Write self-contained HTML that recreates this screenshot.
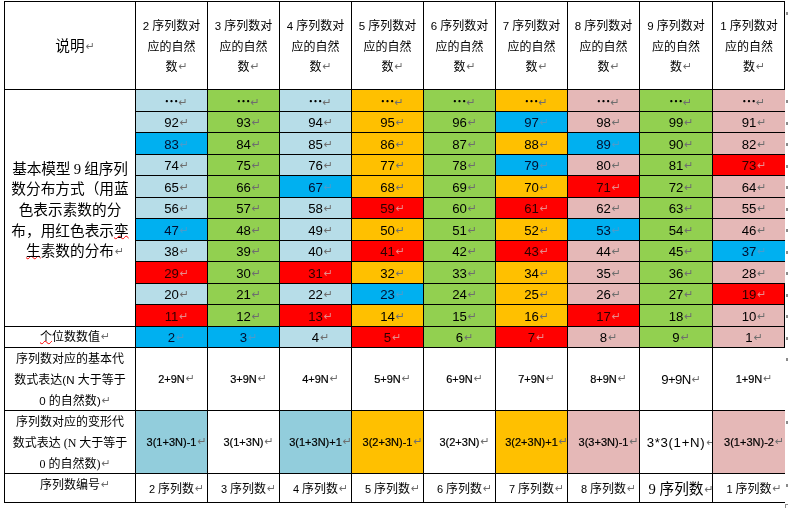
<!DOCTYPE html>
<html lang="zh-CN"><head><meta charset="utf-8"><title>table</title>
<style>
html,body{margin:0;padding:0;background:#fff;}
body{width:788px;height:508px;position:relative;overflow:hidden;font-family:"Liberation Serif","Noto Sans CJK SC",sans-serif;color:#000;}
.c{position:absolute;display:flex;align-items:center;justify-content:center;text-align:center;box-sizing:border-box;overflow:visible;white-space:nowrap;}
.t{position:relative;}
.ln{position:absolute;background:#000;}
.pm{display:inline-block;width:0;overflow:visible;color:#6e6e6e;font-family:"DejaVu Sans",sans-serif;font-size:11px;line-height:10px;font-weight:400;vertical-align:baseline;position:relative;top:-1px;left:1px;letter-spacing:0;}
.h12{font-size:12px;line-height:20.75px;font-weight:400;}
.h12 .t{top:1.5px;}
.h14{font-size:14.67px;line-height:21px;font-weight:400;}
.big{font-size:14.67px;line-height:20.65px;font-weight:400;}
.big .t{top:2.3px;}
.sq{letter-spacing:-0.2px;}
.sq .d9{margin:0 3.5px;}
.e{font-family:"Noto Sans CJK SC",sans-serif;font-weight:700;font-size:14px;position:relative;top:-0.5px;}
.l12{font-size:12px;line-height:21px;font-weight:400;}
.n{font-size:13.2px;line-height:20px;font-family:"Liberation Sans","Noto Sans CJK SC",sans-serif;}
.n .t{top:1.3px;}
.onb{color:#000f30;}
.onr{color:#2c0000;}
.onb .pm{color:#4a9ccc;}
.onr .pm{color:#e88a8a;}
.ls1{letter-spacing:-0.6px;}
.ls2{letter-spacing:0.7px;}
.f{font-size:11px;line-height:20px;font-family:"Liberation Sans","Noto Sans CJK SC",sans-serif;-webkit-text-stroke:0.2px #000;}
.f .pm{-webkit-text-stroke:0;}
.el .pm{left:0px;}
.hd{position:absolute;left:785px;top:504px;width:4px;height:4px;border:1px solid #8c8c8c;box-sizing:content-box;}
.d{font-family:"Liberation Sans",sans-serif;font-size:11.5px;font-weight:400;}
.fd{font-family:"Liberation Sans",sans-serif;font-size:11px;font-weight:400;}
.d9{font-family:"Liberation Serif",serif;font-weight:400;}
.s12{font-family:"Liberation Serif",serif;font-size:12px;}
.ml .t{top:1px;}
.top .t{top:-2.5px;}
.h14 .t{top:1px;}
.wv{text-decoration:underline wavy #f00;text-decoration-thickness:1px;text-underline-offset:-1px;}
.rm{position:absolute;left:786px;width:2px;height:3px;background:#8a8a8a;}
.low .t{top:1.2px;}
</style></head>
<body>
<div class="c h14" style="left:5px;top:2px;width:130px;height:87px;"><div class="t">说明<span class="pm">↵</span></div></div>
<div class="c h12" style="left:136px;top:2px;width:71px;height:87px;"><div class="t"><span class="d">2</span> 序列数对<br>应的自然<br>数<span class="pm">↵</span></div></div>
<div class="c h12" style="left:208px;top:2px;width:71px;height:87px;"><div class="t"><span class="d">3</span> 序列数对<br>应的自然<br>数<span class="pm">↵</span></div></div>
<div class="c h12" style="left:280px;top:2px;width:71px;height:87px;"><div class="t"><span class="d">4</span> 序列数对<br>应的自然<br>数<span class="pm">↵</span></div></div>
<div class="c h12" style="left:352px;top:2px;width:71px;height:87px;"><div class="t"><span class="d">5</span> 序列数对<br>应的自然<br>数<span class="pm">↵</span></div></div>
<div class="c h12" style="left:424px;top:2px;width:71px;height:87px;"><div class="t"><span class="d">6</span> 序列数对<br>应的自然<br>数<span class="pm">↵</span></div></div>
<div class="c h12" style="left:496px;top:2px;width:71px;height:87px;"><div class="t"><span class="d">7</span> 序列数对<br>应的自然<br>数<span class="pm">↵</span></div></div>
<div class="c h12" style="left:568px;top:2px;width:71px;height:87px;"><div class="t"><span class="d">8</span> 序列数对<br>应的自然<br>数<span class="pm">↵</span></div></div>
<div class="c h12" style="left:640px;top:2px;width:72px;height:87px;"><div class="t"><span class="d">9</span> 序列数对<br>应的自然<br>数<span class="pm">↵</span></div></div>
<div class="c h12" style="left:713px;top:2px;width:72px;height:87px;"><div class="t"><span class="d">1</span> 序列数对<br>应的自然<br>数<span class="pm">↵</span></div></div>
<div class="c big" style="left:5px;top:90px;width:130px;height:236px;"><div class="t"><span class="sq">基本模型<span class="d9">9</span>组序列</span><br>数分布方式（用蓝<br>色表示素数的分<br>布，用红色表示<span class="wv">孪</span><br><span class="wv">生</span>素数的分布<span class="pm">↵</span></div></div>
<div class="c n el" style="left:136px;top:90px;width:71px;height:21px;background:#B7DDE8;"><div class="t"><span class="e">…</span><span class="pm">↵</span></div></div>
<div class="c n el" style="left:208px;top:90px;width:71px;height:21px;background:#92D050;"><div class="t"><span class="e">…</span><span class="pm">↵</span></div></div>
<div class="c n el" style="left:280px;top:90px;width:71px;height:21px;background:#B7DDE8;"><div class="t"><span class="e">…</span><span class="pm">↵</span></div></div>
<div class="c n el" style="left:352px;top:90px;width:71px;height:21px;background:#FFC000;"><div class="t"><span class="e">…</span><span class="pm">↵</span></div></div>
<div class="c n el" style="left:424px;top:90px;width:71px;height:21px;background:#92D050;"><div class="t"><span class="e">…</span><span class="pm">↵</span></div></div>
<div class="c n el" style="left:496px;top:90px;width:71px;height:21px;background:#FFC000;"><div class="t"><span class="e">…</span><span class="pm">↵</span></div></div>
<div class="c n el" style="left:568px;top:90px;width:71px;height:21px;background:#E5B8B7;"><div class="t"><span class="e">…</span><span class="pm">↵</span></div></div>
<div class="c n el" style="left:640px;top:90px;width:72px;height:21px;background:#92D050;"><div class="t"><span class="e">…</span><span class="pm">↵</span></div></div>
<div class="c n el" style="left:713px;top:90px;width:72px;height:21px;background:#E5B8B7;"><div class="t"><span class="e">…</span><span class="pm">↵</span></div></div>
<div class="c n" style="left:136px;top:112px;width:71px;height:20px;background:#B7DDE8;"><div class="t">92<span class="pm">↵</span></div></div>
<div class="c n" style="left:208px;top:112px;width:71px;height:20px;background:#92D050;"><div class="t">93<span class="pm">↵</span></div></div>
<div class="c n" style="left:280px;top:112px;width:71px;height:20px;background:#B7DDE8;"><div class="t">94<span class="pm">↵</span></div></div>
<div class="c n" style="left:352px;top:112px;width:71px;height:20px;background:#FFC000;"><div class="t">95<span class="pm">↵</span></div></div>
<div class="c n" style="left:424px;top:112px;width:71px;height:20px;background:#92D050;"><div class="t">96<span class="pm">↵</span></div></div>
<div class="c n onb" style="left:496px;top:112px;width:71px;height:20px;background:#00B0F0;"><div class="t">97<span class="pm">↵</span></div></div>
<div class="c n" style="left:568px;top:112px;width:71px;height:20px;background:#E5B8B7;"><div class="t">98<span class="pm">↵</span></div></div>
<div class="c n" style="left:640px;top:112px;width:72px;height:20px;background:#92D050;"><div class="t">99<span class="pm">↵</span></div></div>
<div class="c n" style="left:713px;top:112px;width:72px;height:20px;background:#E5B8B7;"><div class="t">91<span class="pm">↵</span></div></div>
<div class="c n onb" style="left:136px;top:133px;width:71px;height:21px;background:#00B0F0;"><div class="t">83<span class="pm">↵</span></div></div>
<div class="c n" style="left:208px;top:133px;width:71px;height:21px;background:#92D050;"><div class="t">84<span class="pm">↵</span></div></div>
<div class="c n" style="left:280px;top:133px;width:71px;height:21px;background:#B7DDE8;"><div class="t">85<span class="pm">↵</span></div></div>
<div class="c n" style="left:352px;top:133px;width:71px;height:21px;background:#FFC000;"><div class="t">86<span class="pm">↵</span></div></div>
<div class="c n" style="left:424px;top:133px;width:71px;height:21px;background:#92D050;"><div class="t">87<span class="pm">↵</span></div></div>
<div class="c n" style="left:496px;top:133px;width:71px;height:21px;background:#FFC000;"><div class="t">88<span class="pm">↵</span></div></div>
<div class="c n onb" style="left:568px;top:133px;width:71px;height:21px;background:#00B0F0;"><div class="t">89<span class="pm">↵</span></div></div>
<div class="c n" style="left:640px;top:133px;width:72px;height:21px;background:#92D050;"><div class="t">90<span class="pm">↵</span></div></div>
<div class="c n" style="left:713px;top:133px;width:72px;height:21px;background:#E5B8B7;"><div class="t">82<span class="pm">↵</span></div></div>
<div class="c n" style="left:136px;top:155px;width:71px;height:20px;background:#B7DDE8;"><div class="t">74<span class="pm">↵</span></div></div>
<div class="c n" style="left:208px;top:155px;width:71px;height:20px;background:#92D050;"><div class="t">75<span class="pm">↵</span></div></div>
<div class="c n" style="left:280px;top:155px;width:71px;height:20px;background:#B7DDE8;"><div class="t">76<span class="pm">↵</span></div></div>
<div class="c n" style="left:352px;top:155px;width:71px;height:20px;background:#FFC000;"><div class="t">77<span class="pm">↵</span></div></div>
<div class="c n" style="left:424px;top:155px;width:71px;height:20px;background:#92D050;"><div class="t">78<span class="pm">↵</span></div></div>
<div class="c n onb" style="left:496px;top:155px;width:71px;height:20px;background:#00B0F0;"><div class="t">79<span class="pm">↵</span></div></div>
<div class="c n" style="left:568px;top:155px;width:71px;height:20px;background:#E5B8B7;"><div class="t">80<span class="pm">↵</span></div></div>
<div class="c n" style="left:640px;top:155px;width:72px;height:20px;background:#92D050;"><div class="t">81<span class="pm">↵</span></div></div>
<div class="c n onr" style="left:713px;top:155px;width:72px;height:20px;background:#FF0000;"><div class="t">73<span class="pm">↵</span></div></div>
<div class="c n" style="left:136px;top:176px;width:71px;height:21px;background:#B7DDE8;"><div class="t">65<span class="pm">↵</span></div></div>
<div class="c n" style="left:208px;top:176px;width:71px;height:21px;background:#92D050;"><div class="t">66<span class="pm">↵</span></div></div>
<div class="c n onb" style="left:280px;top:176px;width:71px;height:21px;background:#00B0F0;"><div class="t">67<span class="pm">↵</span></div></div>
<div class="c n" style="left:352px;top:176px;width:71px;height:21px;background:#FFC000;"><div class="t">68<span class="pm">↵</span></div></div>
<div class="c n" style="left:424px;top:176px;width:71px;height:21px;background:#92D050;"><div class="t">69<span class="pm">↵</span></div></div>
<div class="c n" style="left:496px;top:176px;width:71px;height:21px;background:#FFC000;"><div class="t">70<span class="pm">↵</span></div></div>
<div class="c n onr" style="left:568px;top:176px;width:71px;height:21px;background:#FF0000;"><div class="t">71<span class="pm">↵</span></div></div>
<div class="c n" style="left:640px;top:176px;width:72px;height:21px;background:#92D050;"><div class="t">72<span class="pm">↵</span></div></div>
<div class="c n" style="left:713px;top:176px;width:72px;height:21px;background:#E5B8B7;"><div class="t">64<span class="pm">↵</span></div></div>
<div class="c n" style="left:136px;top:198px;width:71px;height:20px;background:#B7DDE8;"><div class="t">56<span class="pm">↵</span></div></div>
<div class="c n" style="left:208px;top:198px;width:71px;height:20px;background:#92D050;"><div class="t">57<span class="pm">↵</span></div></div>
<div class="c n" style="left:280px;top:198px;width:71px;height:20px;background:#B7DDE8;"><div class="t">58<span class="pm">↵</span></div></div>
<div class="c n onr" style="left:352px;top:198px;width:71px;height:20px;background:#FF0000;"><div class="t">59<span class="pm">↵</span></div></div>
<div class="c n" style="left:424px;top:198px;width:71px;height:20px;background:#92D050;"><div class="t">60<span class="pm">↵</span></div></div>
<div class="c n onr" style="left:496px;top:198px;width:71px;height:20px;background:#FF0000;"><div class="t">61<span class="pm">↵</span></div></div>
<div class="c n" style="left:568px;top:198px;width:71px;height:20px;background:#E5B8B7;"><div class="t">62<span class="pm">↵</span></div></div>
<div class="c n" style="left:640px;top:198px;width:72px;height:20px;background:#92D050;"><div class="t">63<span class="pm">↵</span></div></div>
<div class="c n" style="left:713px;top:198px;width:72px;height:20px;background:#E5B8B7;"><div class="t">55<span class="pm">↵</span></div></div>
<div class="c n onb" style="left:136px;top:219px;width:71px;height:21px;background:#00B0F0;"><div class="t">47<span class="pm">↵</span></div></div>
<div class="c n" style="left:208px;top:219px;width:71px;height:21px;background:#92D050;"><div class="t">48<span class="pm">↵</span></div></div>
<div class="c n" style="left:280px;top:219px;width:71px;height:21px;background:#B7DDE8;"><div class="t">49<span class="pm">↵</span></div></div>
<div class="c n" style="left:352px;top:219px;width:71px;height:21px;background:#FFC000;"><div class="t">50<span class="pm">↵</span></div></div>
<div class="c n" style="left:424px;top:219px;width:71px;height:21px;background:#92D050;"><div class="t">51<span class="pm">↵</span></div></div>
<div class="c n" style="left:496px;top:219px;width:71px;height:21px;background:#FFC000;"><div class="t">52<span class="pm">↵</span></div></div>
<div class="c n onb" style="left:568px;top:219px;width:71px;height:21px;background:#00B0F0;"><div class="t">53<span class="pm">↵</span></div></div>
<div class="c n" style="left:640px;top:219px;width:72px;height:21px;background:#92D050;"><div class="t">54<span class="pm">↵</span></div></div>
<div class="c n" style="left:713px;top:219px;width:72px;height:21px;background:#E5B8B7;"><div class="t">46<span class="pm">↵</span></div></div>
<div class="c n" style="left:136px;top:241px;width:71px;height:20px;background:#B7DDE8;"><div class="t">38<span class="pm">↵</span></div></div>
<div class="c n" style="left:208px;top:241px;width:71px;height:20px;background:#92D050;"><div class="t">39<span class="pm">↵</span></div></div>
<div class="c n" style="left:280px;top:241px;width:71px;height:20px;background:#B7DDE8;"><div class="t">40<span class="pm">↵</span></div></div>
<div class="c n onr" style="left:352px;top:241px;width:71px;height:20px;background:#FF0000;"><div class="t">41<span class="pm">↵</span></div></div>
<div class="c n" style="left:424px;top:241px;width:71px;height:20px;background:#92D050;"><div class="t">42<span class="pm">↵</span></div></div>
<div class="c n onr" style="left:496px;top:241px;width:71px;height:20px;background:#FF0000;"><div class="t">43<span class="pm">↵</span></div></div>
<div class="c n" style="left:568px;top:241px;width:71px;height:20px;background:#E5B8B7;"><div class="t">44<span class="pm">↵</span></div></div>
<div class="c n" style="left:640px;top:241px;width:72px;height:20px;background:#92D050;"><div class="t">45<span class="pm">↵</span></div></div>
<div class="c n onb" style="left:713px;top:241px;width:72px;height:20px;background:#00B0F0;"><div class="t">37<span class="pm">↵</span></div></div>
<div class="c n onr" style="left:136px;top:262px;width:71px;height:21px;background:#FF0000;"><div class="t">29<span class="pm">↵</span></div></div>
<div class="c n" style="left:208px;top:262px;width:71px;height:21px;background:#92D050;"><div class="t">30<span class="pm">↵</span></div></div>
<div class="c n onr" style="left:280px;top:262px;width:71px;height:21px;background:#FF0000;"><div class="t">31<span class="pm">↵</span></div></div>
<div class="c n" style="left:352px;top:262px;width:71px;height:21px;background:#FFC000;"><div class="t">32<span class="pm">↵</span></div></div>
<div class="c n" style="left:424px;top:262px;width:71px;height:21px;background:#92D050;"><div class="t">33<span class="pm">↵</span></div></div>
<div class="c n" style="left:496px;top:262px;width:71px;height:21px;background:#FFC000;"><div class="t">34<span class="pm">↵</span></div></div>
<div class="c n" style="left:568px;top:262px;width:71px;height:21px;background:#E5B8B7;"><div class="t">35<span class="pm">↵</span></div></div>
<div class="c n" style="left:640px;top:262px;width:72px;height:21px;background:#92D050;"><div class="t">36<span class="pm">↵</span></div></div>
<div class="c n" style="left:713px;top:262px;width:72px;height:21px;background:#E5B8B7;"><div class="t">28<span class="pm">↵</span></div></div>
<div class="c n" style="left:136px;top:284px;width:71px;height:20px;background:#B7DDE8;"><div class="t">20<span class="pm">↵</span></div></div>
<div class="c n" style="left:208px;top:284px;width:71px;height:20px;background:#92D050;"><div class="t">21<span class="pm">↵</span></div></div>
<div class="c n" style="left:280px;top:284px;width:71px;height:20px;background:#B7DDE8;"><div class="t">22<span class="pm">↵</span></div></div>
<div class="c n onb" style="left:352px;top:284px;width:71px;height:20px;background:#00B0F0;"><div class="t">23<span class="pm">↵</span></div></div>
<div class="c n" style="left:424px;top:284px;width:71px;height:20px;background:#92D050;"><div class="t">24<span class="pm">↵</span></div></div>
<div class="c n" style="left:496px;top:284px;width:71px;height:20px;background:#FFC000;"><div class="t">25<span class="pm">↵</span></div></div>
<div class="c n" style="left:568px;top:284px;width:71px;height:20px;background:#E5B8B7;"><div class="t">26<span class="pm">↵</span></div></div>
<div class="c n" style="left:640px;top:284px;width:72px;height:20px;background:#92D050;"><div class="t">27<span class="pm">↵</span></div></div>
<div class="c n onr" style="left:713px;top:284px;width:72px;height:20px;background:#FF0000;"><div class="t">19<span class="pm">↵</span></div></div>
<div class="c n onr" style="left:136px;top:305px;width:71px;height:21px;background:#FF0000;"><div class="t">11<span class="pm">↵</span></div></div>
<div class="c n" style="left:208px;top:305px;width:71px;height:21px;background:#92D050;"><div class="t">12<span class="pm">↵</span></div></div>
<div class="c n onr" style="left:280px;top:305px;width:71px;height:21px;background:#FF0000;"><div class="t">13<span class="pm">↵</span></div></div>
<div class="c n" style="left:352px;top:305px;width:71px;height:21px;background:#FFC000;"><div class="t">14<span class="pm">↵</span></div></div>
<div class="c n" style="left:424px;top:305px;width:71px;height:21px;background:#92D050;"><div class="t">15<span class="pm">↵</span></div></div>
<div class="c n" style="left:496px;top:305px;width:71px;height:21px;background:#FFC000;"><div class="t">16<span class="pm">↵</span></div></div>
<div class="c n onr" style="left:568px;top:305px;width:71px;height:21px;background:#FF0000;"><div class="t">17<span class="pm">↵</span></div></div>
<div class="c n" style="left:640px;top:305px;width:72px;height:21px;background:#92D050;"><div class="t">18<span class="pm">↵</span></div></div>
<div class="c n" style="left:713px;top:305px;width:72px;height:21px;background:#E5B8B7;"><div class="t">10<span class="pm">↵</span></div></div>
<div class="c l12" style="left:5px;top:327px;width:130px;height:20px;"><div class="t"><span class="wv">个</span>位数数值<span class="pm">↵</span></div></div>
<div class="c n onb" style="left:136px;top:327px;width:71px;height:20px;background:#00B0F0;"><div class="t">2<span class="pm">↵</span></div></div>
<div class="c n onb" style="left:208px;top:327px;width:71px;height:20px;background:#00B0F0;"><div class="t">3<span class="pm">↵</span></div></div>
<div class="c n" style="left:280px;top:327px;width:71px;height:20px;background:#B7DDE8;"><div class="t">4<span class="pm">↵</span></div></div>
<div class="c n onr" style="left:352px;top:327px;width:71px;height:20px;background:#FF0000;"><div class="t">5<span class="pm">↵</span></div></div>
<div class="c n" style="left:424px;top:327px;width:71px;height:20px;background:#92D050;"><div class="t">6<span class="pm">↵</span></div></div>
<div class="c n onr" style="left:496px;top:327px;width:71px;height:20px;background:#FF0000;"><div class="t">7<span class="pm">↵</span></div></div>
<div class="c n" style="left:568px;top:327px;width:71px;height:20px;background:#E5B8B7;"><div class="t">8<span class="pm">↵</span></div></div>
<div class="c n" style="left:640px;top:327px;width:72px;height:20px;background:#92D050;"><div class="t">9<span class="pm">↵</span></div></div>
<div class="c n" style="left:713px;top:327px;width:72px;height:20px;background:#E5B8B7;"><div class="t">1<span class="pm">↵</span></div></div>
<div class="c l12 ml" style="left:5px;top:348px;width:130px;height:62px;"><div class="t">序列数对应的基本代<br>数式表达<span class="d">(N </span>大于等于<br><span class="d">0 </span>的自然数<span class="d">)</span><span class="pm">↵</span></div></div>
<div class="c f" style="left:136px;top:348px;width:71px;height:62px;"><div class="t">2+9N<span class="pm">↵</span></div></div>
<div class="c f" style="left:208px;top:348px;width:71px;height:62px;"><div class="t">3+9N<span class="pm">↵</span></div></div>
<div class="c f" style="left:280px;top:348px;width:71px;height:62px;"><div class="t">4+9N<span class="pm">↵</span></div></div>
<div class="c f" style="left:352px;top:348px;width:71px;height:62px;"><div class="t">5+9N<span class="pm">↵</span></div></div>
<div class="c f" style="left:424px;top:348px;width:71px;height:62px;"><div class="t">6+9N<span class="pm">↵</span></div></div>
<div class="c f" style="left:496px;top:348px;width:71px;height:62px;"><div class="t">7+9N<span class="pm">↵</span></div></div>
<div class="c f" style="left:568px;top:348px;width:71px;height:62px;"><div class="t">8+9N<span class="pm">↵</span></div></div>
<div class="c n ls1" style="left:640px;top:348px;width:72px;height:62px;"><div class="t">9+9N<span class="pm">↵</span></div></div>
<div class="c f" style="left:713px;top:348px;width:72px;height:62px;"><div class="t">1+9N<span class="pm">↵</span></div></div>
<div class="c l12 ml" style="left:5px;top:411px;width:130px;height:62px;"><div class="t">序列数对应的变形代<br>数式表达<span class="s12"> (N </span>大于等于<br><span class="s12">0 </span>的自然数<span class="s12">)</span><span class="pm">↵</span></div></div>
<div class="c f" style="left:136px;top:411px;width:71px;height:62px;background:#92CDDC;"><div class="t">3(1+3N)-1<span class="pm">↵</span></div></div>
<div class="c f" style="left:208px;top:411px;width:71px;height:62px;"><div class="t">3(1+3N)<span class="pm">↵</span></div></div>
<div class="c f" style="left:280px;top:411px;width:71px;height:62px;background:#92CDDC;"><div class="t">3(1+3N)+1<span class="pm">↵</span></div></div>
<div class="c f" style="left:352px;top:411px;width:71px;height:62px;background:#FFC000;"><div class="t">3(2+3N)-1<span class="pm">↵</span></div></div>
<div class="c f" style="left:424px;top:411px;width:71px;height:62px;"><div class="t">3(2+3N)<span class="pm">↵</span></div></div>
<div class="c f" style="left:496px;top:411px;width:71px;height:62px;background:#FFC000;"><div class="t">3(2+3N)+1<span class="pm">↵</span></div></div>
<div class="c f" style="left:568px;top:411px;width:71px;height:62px;background:#E5B8B7;"><div class="t">3(3+3N)-1<span class="pm">↵</span></div></div>
<div class="c n ls2" style="left:640px;top:411px;width:72px;height:62px;"><div class="t">3*3(1+N)<span class="pm">↵</span></div></div>
<div class="c f" style="left:713px;top:411px;width:72px;height:62px;background:#E5B8B7;"><div class="t">3(1+3N)-2<span class="pm">↵</span></div></div>
<div class="c l12 top" style="left:5px;top:474px;width:130px;height:28px;"><div class="t">序列数编号<span class="pm">↵</span></div></div>
<div class="c h12 low" style="left:136px;top:474px;width:71px;height:28px;"><div class="t"><span class="fd">2 </span>序列数<span class="pm">↵</span></div></div>
<div class="c h12 low" style="left:208px;top:474px;width:71px;height:28px;"><div class="t"><span class="fd">3 </span>序列数<span class="pm">↵</span></div></div>
<div class="c h12 low" style="left:280px;top:474px;width:71px;height:28px;"><div class="t"><span class="fd">4 </span>序列数<span class="pm">↵</span></div></div>
<div class="c h12 low" style="left:352px;top:474px;width:71px;height:28px;"><div class="t"><span class="fd">5 </span>序列数<span class="pm">↵</span></div></div>
<div class="c h12 low" style="left:424px;top:474px;width:71px;height:28px;"><div class="t"><span class="fd">6 </span>序列数<span class="pm">↵</span></div></div>
<div class="c h12 low" style="left:496px;top:474px;width:71px;height:28px;"><div class="t"><span class="fd">7 </span>序列数<span class="pm">↵</span></div></div>
<div class="c h12 low" style="left:568px;top:474px;width:71px;height:28px;"><div class="t"><span class="fd">8 </span>序列数<span class="pm">↵</span></div></div>
<div class="c h14 low" style="left:640px;top:474px;width:72px;height:28px;"><div class="t"><span class="d9">9 </span>序列数<span class="pm">↵</span></div></div>
<div class="c h12 low" style="left:713px;top:474px;width:72px;height:28px;"><div class="t"><span class="fd">1 </span>序列数<span class="pm">↵</span></div></div>
<div class="ln" style="left:4px;top:1px;width:781px;height:1px"></div>
<div class="ln" style="left:4px;top:89px;width:781px;height:1px"></div>
<div class="ln" style="left:135px;top:111px;width:650px;height:1px"></div>
<div class="ln" style="left:135px;top:132px;width:650px;height:1px"></div>
<div class="ln" style="left:135px;top:154px;width:650px;height:1px"></div>
<div class="ln" style="left:135px;top:175px;width:650px;height:1px"></div>
<div class="ln" style="left:135px;top:197px;width:650px;height:1px"></div>
<div class="ln" style="left:135px;top:218px;width:650px;height:1px"></div>
<div class="ln" style="left:135px;top:240px;width:650px;height:1px"></div>
<div class="ln" style="left:135px;top:261px;width:650px;height:1px"></div>
<div class="ln" style="left:135px;top:283px;width:650px;height:1px"></div>
<div class="ln" style="left:135px;top:304px;width:650px;height:1px"></div>
<div class="ln" style="left:4px;top:326px;width:781px;height:1px"></div>
<div class="ln" style="left:4px;top:347px;width:781px;height:1px"></div>
<div class="ln" style="left:4px;top:410px;width:781px;height:1px"></div>
<div class="ln" style="left:4px;top:473px;width:781px;height:1px"></div>
<div class="ln" style="left:4px;top:502px;width:781px;height:1px"></div>
<div class="ln" style="left:4px;top:1px;width:1px;height:502px"></div>
<div class="ln" style="left:135px;top:1px;width:1px;height:502px"></div>
<div class="ln" style="left:207px;top:1px;width:1px;height:502px"></div>
<div class="ln" style="left:279px;top:1px;width:1px;height:502px"></div>
<div class="ln" style="left:351px;top:1px;width:1px;height:502px"></div>
<div class="ln" style="left:423px;top:1px;width:1px;height:502px"></div>
<div class="ln" style="left:495px;top:1px;width:1px;height:502px"></div>
<div class="ln" style="left:567px;top:1px;width:1px;height:502px"></div>
<div class="ln" style="left:639px;top:1px;width:1px;height:502px"></div>
<div class="ln" style="left:712px;top:1px;width:1px;height:502px"></div>
<div class="ln" style="left:784px;top:1px;width:1px;height:89px"></div>
<div class="ln" style="left:784px;top:283px;width:1px;height:65px"></div>
<div class="rm" style="top:12px"></div>
<div class="rm" style="top:100px"></div>
<div class="rm" style="top:122px"></div>
<div class="rm" style="top:143px"></div>
<div class="rm" style="top:165px"></div>
<div class="rm" style="top:186px"></div>
<div class="rm" style="top:208px"></div>
<div class="rm" style="top:229px"></div>
<div class="rm" style="top:251px"></div>
<div class="rm" style="top:272px"></div>
<div class="rm" style="top:294px"></div>
<div class="rm" style="top:315px"></div>
<div class="rm" style="top:337px"></div>
<div class="rm" style="top:358px"></div>
<div class="rm" style="top:421px"></div>
<div class="rm" style="top:484px"></div>
<div class="hd"></div>
</body></html>
